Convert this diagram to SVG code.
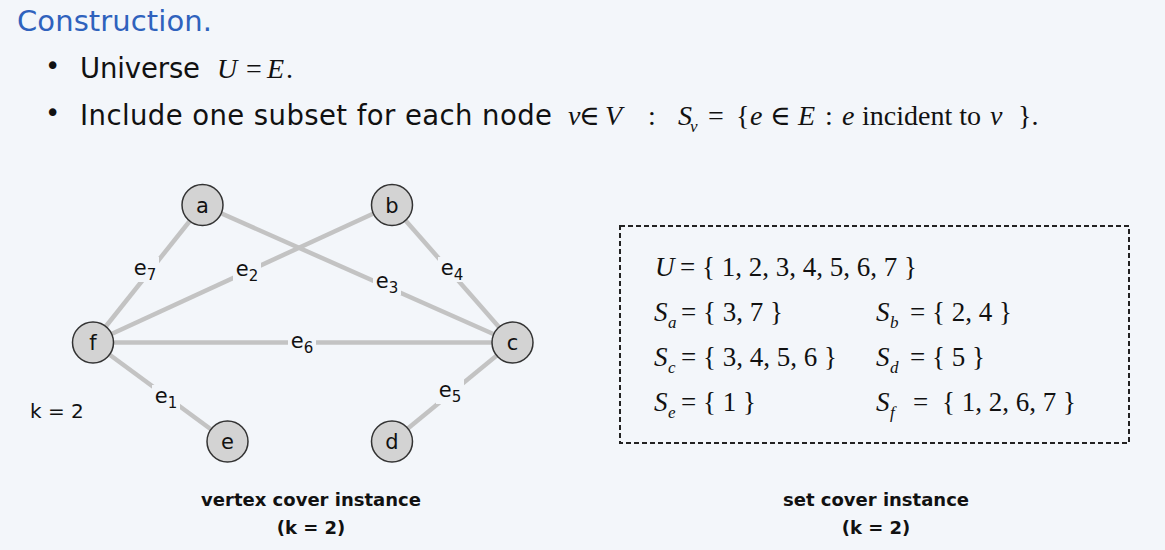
<svg xmlns="http://www.w3.org/2000/svg" width="1165" height="550" viewBox="0 0 1165 550">
<style>
.sans{font-family:"DejaVu Sans","Liberation Sans",sans-serif;fill:#111}
.title{font-family:"DejaVu Sans","Liberation Sans",sans-serif;fill:#2f62bd;font-size:29px}
.body{font-family:"DejaVu Sans","Liberation Sans",sans-serif;fill:#111;font-size:27.5px}
.m{font-family:"Liberation Serif","DejaVu Serif",serif;fill:#111;font-size:28px}
.mb{font-family:"Liberation Serif","DejaVu Serif",serif;fill:#111;font-size:27px}
.it{font-style:italic}
.sub{font-size:17px;font-style:italic}
.edge{stroke:#c3c3c3;stroke-width:4.5;fill:none}
.node circle{fill:#d3d3d3;stroke:#333;stroke-width:1.5}
.node text{font-family:"DejaVu Sans","Liberation Sans",sans-serif;font-size:21px;fill:#111;text-anchor:middle}
.lbg{fill:#f3f6fa}
.elab{font-family:"DejaVu Sans","Liberation Sans",sans-serif;font-size:21px;fill:#111;text-anchor:middle}
.cap{font-family:"DejaVu Sans","Liberation Sans",sans-serif;font-size:18px;font-weight:bold;fill:#111;text-anchor:middle}
</style>
<rect x="0" y="0" width="1165" height="550" fill="#f3f6fa"/>

<text class="title" x="17" y="31" textLength="195">Construction.</text>

<text class="sans" x="45" y="75" font-size="26">•</text>
<text class="body" x="80" y="78" textLength="120">Universe</text>
<text class="m" y="78"><tspan class="it" x="217">U</tspan><tspan x="246">=</tspan><tspan class="it" x="267">E</tspan><tspan x="286">.</tspan></text>

<text class="sans" x="45" y="122" font-size="26">•</text>
<text class="body" x="80" y="125" textLength="472">Include one subset for each node</text>
<text class="m" y="125"><tspan class="it" x="568">v</tspan><tspan x="579">∈</tspan><tspan class="it" x="605">V</tspan><tspan x="648">:</tspan><tspan class="it" x="678">S</tspan><tspan class="sub" x="690" dy="7">v</tspan><tspan x="708" dy="-7">=</tspan><tspan x="736">{</tspan><tspan class="it" x="750">e</tspan><tspan x="770">∈</tspan><tspan class="it" x="798">E</tspan><tspan x="825">:</tspan><tspan class="it" x="842">e</tspan><tspan x="862">incident to</tspan><tspan class="it" x="990">v</tspan><tspan x="1018">}.</tspan></text>

<g id="connectors">
<line class="edge" x1="202.5" y1="205" x2="93" y2="342.5"/>
<line class="edge" x1="392" y1="205" x2="93" y2="342.5"/>
<line class="edge" x1="202.5" y1="205" x2="512.5" y2="342.5"/>
<line class="edge" x1="392" y1="205" x2="512.5" y2="342.5"/>
<line class="edge" x1="93" y1="342.5" x2="512.5" y2="342.5"/>
<line class="edge" x1="93" y1="342.5" x2="227.5" y2="441.5"/>
<line class="edge" x1="512.5" y1="342.5" x2="392" y2="441.5"/>
<rect class="lbg" x="131" y="257" width="28" height="25"/>
<rect class="lbg" x="233" y="258" width="28" height="25"/>
<rect class="lbg" x="373" y="270" width="28" height="25"/>
<rect class="lbg" x="438" y="257" width="28" height="25"/>
<rect class="lbg" x="288" y="330" width="28" height="25"/>
<rect class="lbg" x="152" y="385" width="28" height="25"/>
<rect class="lbg" x="436" y="379" width="28" height="25"/>
<text class="elab" x="145" y="275">e<tspan font-size="15" dy="5">7</tspan></text>
<text class="elab" x="247" y="276">e<tspan font-size="15" dy="5">2</tspan></text>
<text class="elab" x="387" y="288">e<tspan font-size="15" dy="5">3</tspan></text>
<text class="elab" x="452" y="275">e<tspan font-size="15" dy="5">4</tspan></text>
<text class="elab" x="302" y="348">e<tspan font-size="15" dy="5">6</tspan></text>
<text class="elab" x="166" y="403">e<tspan font-size="15" dy="5">1</tspan></text>
<text class="elab" x="450" y="397">e<tspan font-size="15" dy="5">5</tspan></text>
</g>

<g id="node-a" class="node"><circle cx="202.5" cy="205" r="20.5"/><text x="202.5" y="212.5">a</text></g>
<g id="node-b" class="node"><circle cx="392" cy="205" r="20.5"/><text x="392" y="212.5">b</text></g>
<g id="node-f" class="node"><circle cx="93" cy="342.5" r="20.5"/><text x="93" y="350">f</text></g>
<g id="node-c" class="node"><circle cx="512.5" cy="342.5" r="20.5"/><text x="512.5" y="350">c</text></g>
<g id="node-e" class="node"><circle cx="227.5" cy="441.5" r="20.5"/><text x="227.5" y="449">e</text></g>
<g id="node-d" class="node"><circle cx="392" cy="441.5" r="20.5"/><text x="392" y="449">d</text></g>

<text class="sans" x="30" y="418" font-size="20">k = 2</text>

<g id="set-cover">
<rect x="620" y="226" width="509" height="217" fill="none" stroke="#222" stroke-width="2" stroke-dasharray="5,3"/>
<text class="mb" y="276"><tspan class="it" x="655">U</tspan><tspan x="680">= { 1, 2, 3, 4, 5, 6, 7 }</tspan></text>
<text class="mb" y="321"><tspan class="it" x="654">S</tspan><tspan class="sub" x="668" dy="7">a</tspan><tspan x="681" dy="-7">= { 3, 7 }</tspan></text>
<text class="mb" y="321"><tspan class="it" x="876">S</tspan><tspan class="sub" x="890" dy="7">b</tspan><tspan x="910" dy="-7">= { 2, 4 }</tspan></text>
<text class="mb" y="366"><tspan class="it" x="654">S</tspan><tspan class="sub" x="668" dy="7">c</tspan><tspan x="681" dy="-7">= { 3, 4, 5, 6 }</tspan></text>
<text class="mb" y="366"><tspan class="it" x="876">S</tspan><tspan class="sub" x="890" dy="7">d</tspan><tspan x="910" dy="-7">= { 5 }</tspan></text>
<text class="mb" y="411"><tspan class="it" x="654">S</tspan><tspan class="sub" x="668" dy="7">e</tspan><tspan x="681" dy="-7">= { 1 }</tspan></text>
<text class="mb" y="411"><tspan class="it" x="876">S</tspan><tspan class="sub" x="890" dy="7">f</tspan><tspan x="913" dy="-7">=</tspan><tspan x="942">{ 1, 2, 6, 7 }</tspan></text>
</g>

<text class="cap" x="311" y="506">vertex cover instance</text>
<text class="cap" x="311" y="534">(k = 2)</text>
<text class="cap" x="876" y="506">set cover instance</text>
<text class="cap" x="876" y="534">(k = 2)</text>
</svg>
